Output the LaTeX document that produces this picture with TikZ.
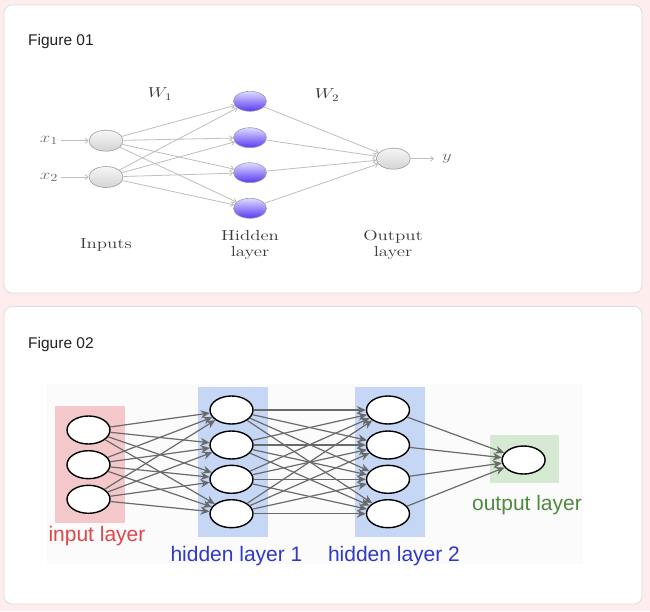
\documentclass[tikz,border=0pt]{standalone}
\usepackage{fontspec}
\usepackage{graphicx}
\setsansfont{Liberation Sans}
\usetikzlibrary{shapes.geometric,arrows.meta}
\definecolor{bgpink}{HTML}{FDEDED}
\definecolor{cardline}{HTML}{DADCE0}
\definecolor{titletext}{HTML}{202124}
\definecolor{edgeone}{HTML}{BEBEBE}
\definecolor{labone}{HTML}{3A3A3A}
\definecolor{varone}{HTML}{6E6E6E}
\definecolor{hidtop}{HTML}{DCDCFF}
\definecolor{hidbot}{HTML}{5A38F0}
\definecolor{hidline}{HTML}{9A9AB8}
\definecolor{inptop}{HTML}{F6F6F6}
\definecolor{inpbot}{HTML}{D4D4D4}
\definecolor{inpline}{HTML}{9C9C9C}
\definecolor{imgbg}{HTML}{FBFBFB}
\definecolor{inred}{HTML}{F4C8CA}
\definecolor{inredtext}{HTML}{E0454A}
\definecolor{hidblue}{HTML}{C6D7F6}
\definecolor{hidbluetext}{HTML}{3038C8}
\definecolor{outgreen}{HTML}{D6E9D2}
\definecolor{outgreentext}{HTML}{4F8A3F}
\definecolor{edgetwo}{HTML}{6A6A6A}
\begin{document}
\begin{tikzpicture}[x=1pt,y=-1pt,
  figtitle/.style={font=\sffamily\fontsize{15.5}{18}\selectfont, text=titletext, inner sep=0pt},
  inpone/.style={ellipse, minimum width=34pt, minimum height=21pt, inner sep=0pt,
     draw=inpline, line width=0.6pt, top color=inptop, bottom color=inpbot},
  hidone/.style={ellipse, minimum width=33pt, minimum height=20pt, inner sep=0pt,
     draw=hidline, line width=0.6pt, top color=hidtop, bottom color=hidbot},
  labtext/.style={font=\fontsize{14.5}{16}\selectfont, text=labone, xscale=1.3, align=center, inner sep=0pt},
  vartext/.style={font=\fontsize{15.5}{15.5}\selectfont, text=varone, xscale=1.3, inner sep=2pt},
  wtext/.style={font=\fontsize{14.5}{14.5}\selectfont, text=black!80, xscale=1.3},
  eone/.style={draw=edgeone, line width=0.8pt, -{Straight Barb[length=3pt,width=5pt]}},
  neuron/.style={ellipse, minimum width=43pt, minimum height=28pt, inner sep=0pt,
     draw=black, line width=1.4pt, fill=white},
  etwo/.style={draw=edgetwo, line width=1.2pt, -{Stealth[length=9pt,width=8pt]}},
  laytext/.style={font=\sffamily\fontsize{21}{21}\selectfont, inner sep=0pt, anchor=base}
]
\useasboundingbox (0,0) rectangle (650,611);
\fill[bgpink] (0,0) rectangle (650,611);
\draw[cardline, fill=white, line width=0.8pt, rounded corners=8pt] (4,5) rectangle (642,293);
\draw[cardline, fill=white, line width=0.8pt, rounded corners=8pt] (4,306.5) rectangle (642,604);

\node[figtitle, anchor=base west] (t1) at (28,45.7) {Figure 01};
\node[figtitle, anchor=base west] (t2) at (28,348) {Figure 02};

% ---------- Figure 01 ----------
\node[inpone] (i1) at (106,140.7) {};
\node[inpone] (i2) at (106,177) {};
\node[hidone] (h1) at (250,101.3) {};
\node[hidone] (h2) at (250,137.7) {};
\node[hidone] (h3) at (250,172.7) {};
\node[hidone] (h4) at (250,208.3) {};
\node[inpone] (o1) at (393.3,158.7) {};

\node[vartext] (x1) at (49,140.7) {$x_1$};
\node[vartext] (x2) at (49,177) {$x_2$};
\node[vartext, inner xsep=6pt] (yy) at (447,158.7) {$y$};
\node[wtext] (w1) at (160,94) {$W_1$};
\node[wtext] (w2) at (327,95) {$W_2$};

\node[labtext] (linp) at (106,245) {Inputs};
\node[labtext] (lhid) at (250,245) {Hidden\\layer};
\node[labtext] (lout) at (393,245) {Output\\layer};

\draw[eone] (x1) -- (i1);
\draw[eone] (x2) -- (i2);
\draw[eone] (o1) -- (yy);
\foreach \i in {1,2}{\foreach \j in {1,...,4}{\draw[eone] (i\i) -- (h\j);}}
\foreach \j in {1,...,4}{\draw[eone] (h\j) -- (o1);}

% ---------- Figure 02 ----------
\fill[imgbg] (46.5,384) rectangle (583,564);
\fill[inred] (55,406) rectangle (125,522.7);
\fill[hidblue] (197.5,386.7) rectangle (267.6,537.3);
\fill[hidblue] (354.8,386.7) rectangle (424.5,537.3);
\fill[outgreen] (489.6,435) rectangle (559.3,483.3);

\node[neuron] (a1) at (88.5,430) {};
\node[neuron] (a2) at (88.5,464.7) {};
\node[neuron] (a3) at (88.5,499.3) {};
\node[neuron] (b1) at (231.5,410) {};
\node[neuron] (b2) at (231.5,445) {};
\node[neuron] (b3) at (231.5,479.3) {};
\node[neuron] (b4) at (231.5,513.7) {};
\node[neuron] (c1) at (388,410) {};
\node[neuron] (c2) at (388,445) {};
\node[neuron] (c3) at (388,479.3) {};
\node[neuron] (c4) at (388,513.7) {};
\node[neuron] (d1) at (523.6,460) {};

\foreach \i in {1,2,3}{\foreach \j in {1,...,4}{\draw[etwo] (a\i) -- (b\j);}}
\foreach \i in {1,...,4}{\foreach \j in {1,...,4}{\draw[etwo] (b\i) -- (c\j);}}
\foreach \i in {1,...,4}{\draw[etwo] (c\i) -- (d1);}

\node[laytext, text=inredtext] (linl) at (97,541) {input layer};
\node[laytext, text=hidbluetext] (lh1) at (236.5,561) {hidden layer 1};
\node[laytext, text=hidbluetext] (lh2) at (394,561) {hidden layer 2};
\node[laytext, text=outgreentext] (lol) at (527,510) {output layer};
\end{tikzpicture}
\end{document}
